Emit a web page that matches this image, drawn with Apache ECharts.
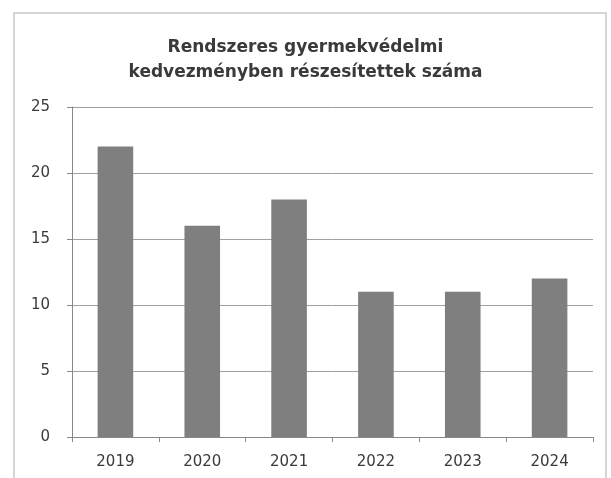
<!DOCTYPE html>
<html>
<head>
<meta charset="utf-8">
<script src="https://cdn.jsdelivr.net/npm/echarts@6/dist/echarts.min.js"></script>
<style>html,body{margin:0;padding:0;background:#fff}#c{width:611px;height:478px}</style>
</head>
<body>
<div id="c"></div>
<script>
var categories = ['2019', '2020', '2021', '2022', '2023', '2024'];
var values = [22, 16, 18, 11, 11, 12];
var yTicks = [0, 5, 10, 15, 20, 25];
var titleText = 'Rendszeres gyermekvédelmi\nkedvezményben részesítettek száma';

var chart = echarts.init(document.getElementById('c'));
chart.setOption({
  backgroundColor: '#fff',
  animation: false,
  title: {
    text: titleText,
    left: 'center',
    top: 30,
    textStyle: { fontFamily: 'DejaVu Sans', fontWeight: 'bold', fontSize: 17, color: '#3a3a3a', lineHeight: 25 }
  },
  graphic: [{
    type: 'rect',
    shape: { x: 14, y: 13, width: 592, height: 480 },
    style: { fill: 'none', stroke: '#c8c8c8', lineWidth: 1.5 },
    silent: true
  }],
  grid: { left: 72, right: 18, top: 107, bottom: 41 },
  xAxis: {
    type: 'category',
    data: categories,
    axisLine: { lineStyle: { color: '#888' } },
    axisTick: { show: true, alignWithLabel: false, length: 5, lineStyle: { color: '#888' } },
    axisLabel: { color: '#3a3a3a', fontSize: 15, fontFamily: 'DejaVu Sans', margin: 18 }
  },
  yAxis: {
    type: 'value',
    min: yTicks[0],
    max: yTicks[yTicks.length - 1],
    interval: 5,
    axisLine: { show: true, lineStyle: { color: '#888' } },
    axisTick: { show: true, length: 5, lineStyle: { color: '#888' } },
    splitLine: { lineStyle: { color: '#a0a0a0' } },
    axisLabel: { color: '#3a3a3a', fontSize: 15, fontFamily: 'DejaVu Sans', margin: 22 }
  },
  series: [{
    type: 'bar',
    data: values,
    barWidth: '41%',
    itemStyle: { color: '#7f7f7f' }
  }]
});
</script>
</body>
</html>
